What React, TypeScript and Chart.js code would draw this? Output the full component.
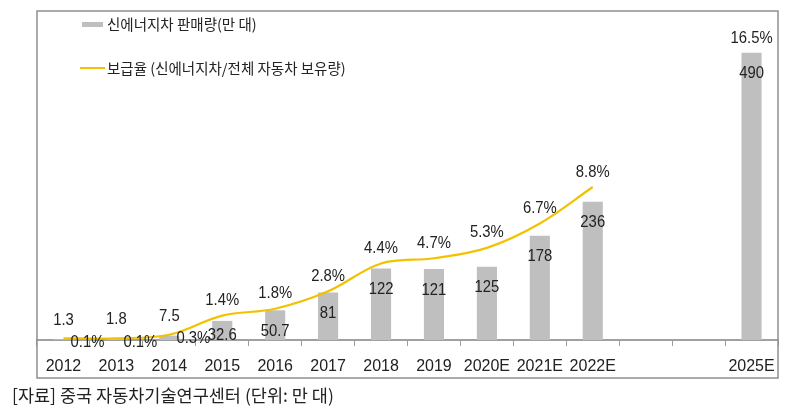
import React, { useEffect, useRef } from 'react';
import { Chart, registerables } from 'chart.js';

Chart.register(...registerables);

const categories = ['2012', '2013', '2014', '2015', '2016', '2017', '2018', '2019', '2020E', '2021E', '2022E', '', '', '2025E'];
const salesValues = [1.3, 1.8, 7.5, 32.6, 50.7, 81, 122, 121, 125, 178, 236, null, null, 490];
const penetrationRates = [0.1, 0.1, 0.3, 1.4, 1.8, 2.8, 4.4, 4.7, 5.3, 6.7, 8.8, null, null, 16.5];
const salesLabel = '신에너지차 판매량(만 대)';
const rateLabel = '보급율 (신에너지차/전체 자동차 보유량)';
const sourceNote = '[자료] 중국 자동차기술연구센터 (단위: 만 대)';
const salesMax = 500;
const rateMax = 16.85;

const NUM_FAMILY = "'Liberation Sans Narrow', 'Arial Narrow', 'Liberation Sans', Arial, sans-serif";
const KR_FAMILY = "'Noto Sans CJK KR', 'Noto Sans', sans-serif";
const TEXT_COLOR = '#222222';
const BAR_COLOR = '#bfbfbf';
const LINE_COLOR = '#f2c200';

function condensedText(ctx: any, txt: string, x: number, y: number) {
  ctx.save();
  ctx.translate(x, y);
  ctx.scale(0.9, 1);
  ctx.fillText(txt, 0, 0);
  ctx.restore();
}

const decorPlugin = {
  id: 'decor',
  beforeDraw(chart: any) {
    const ctx = chart.ctx;
    ctx.save();
    ctx.fillStyle = '#ffffff';
    ctx.fillRect(0, 0, chart.width, chart.height);
    ctx.restore();
  },
  afterDraw(chart: any) {
    const { ctx, chartArea } = chart;
    ctx.save();
    // frame
    ctx.strokeStyle = '#8f8f8f';
    ctx.lineWidth = 1.5;
    ctx.strokeRect(chartArea.left, 11, chartArea.right - chartArea.left, 367);

    // legend
    ctx.fillStyle = BAR_COLOR;
    ctx.fillRect(82, 22, 21, 5);
    ctx.strokeStyle = LINE_COLOR;
    ctx.lineWidth = 2;
    ctx.beginPath();
    ctx.moveTo(80, 68);
    ctx.lineTo(105, 68);
    ctx.stroke();
    ctx.fillStyle = TEXT_COLOR;
    ctx.font = `14.5px ${KR_FAMILY}`;
    ctx.textAlign = 'left';
    ctx.textBaseline = 'middle';
    ctx.fillText(salesLabel, 107, 24);
    ctx.fillText(rateLabel, 107, 68);

    // source note
    ctx.font = `17.5px ${KR_FAMILY}`;
    ctx.fillText(sourceNote, 12, 395);

    // value labels
    ctx.font = `16.5px ${NUM_FAMILY}`;
    ctx.textAlign = 'center';
    ctx.fillStyle = TEXT_COLOR;
    const barMeta = chart.getDatasetMeta(1);
    barMeta.data.forEach((el: any, i: number) => {
      const v = salesValues[i];
      if (v == null) return;
      const h = el.base - el.y;
      const y = h < 12 ? el.y - 19 : Math.min(el.y + 21, el.base - 5);
      condensedText(ctx, String(v), el.x, y);
    });
    const lineMeta = chart.getDatasetMeta(0);
    lineMeta.data.forEach((el: any, i: number) => {
      const v = penetrationRates[i];
      if (v == null) return;
      const txt = v.toFixed(1) + '%';
      if (v < 1) condensedText(ctx, txt, el.x + 24, el.y + 4);
      else condensedText(ctx, txt, el.x, el.y - 15);
    });
    ctx.restore();
  },
};

export default function App() {
  const canvasRef = useRef<HTMLCanvasElement | null>(null);

  useEffect(() => {
    if (!canvasRef.current) return;
    const chart = new Chart(canvasRef.current, {
      type: 'bar',
      data: {
        labels: categories,
        datasets: [
          {
            type: 'line',
            label: rateLabel,
            data: penetrationRates,
            yAxisID: 'y2',
            borderColor: LINE_COLOR,
            borderWidth: 2.2,
            tension: 0.35,
            pointRadius: 0,
            spanGaps: false,
            order: 0,
          } as any,
          {
            type: 'bar',
            label: salesLabel,
            data: salesValues,
            yAxisID: 'y',
            backgroundColor: BAR_COLOR,
            barPercentage: 0.38,
            categoryPercentage: 1,
            order: 1,
          } as any,
        ],
      },
      options: {
        responsive: false,
        animation: false,
        devicePixelRatio: 1,
        layout: { padding: { left: 37, right: 11, top: 47, bottom: 0 } },
        plugins: {
          legend: { display: false },
          tooltip: { enabled: false },
        },
        scales: {
          x: {
            offset: true,
            grid: {
              offset: true,
              drawOnChartArea: false,
              tickLength: 6,
              color: '#9a9a9a',
              lineWidth: 1,
            },
            border: { display: true, color: '#a0a0a0', width: 2 },
            ticks: {
              font: { family: NUM_FAMILY, size: 16 },
              color: TEXT_COLOR,
              padding: 11,
              maxRotation: 0,
              autoSkip: false,
            },
            afterFit(scale: any) {
              scale.height = 78;
            },
          },
          y: { display: false, min: 0, max: salesMax },
          y2: { display: false, min: 0, max: rateMax },
        },
      } as any,
      plugins: [decorPlugin],
    });
    return () => chart.destroy();
  }, []);

  return (
    <div style={{ position: 'fixed', left: 0, top: 0, width: 789, height: 418, background: '#fff' }}>
      <canvas ref={canvasRef} width={789} height={418} style={{ display: 'block', width: 789, height: 418 }} />
    </div>
  );
}
